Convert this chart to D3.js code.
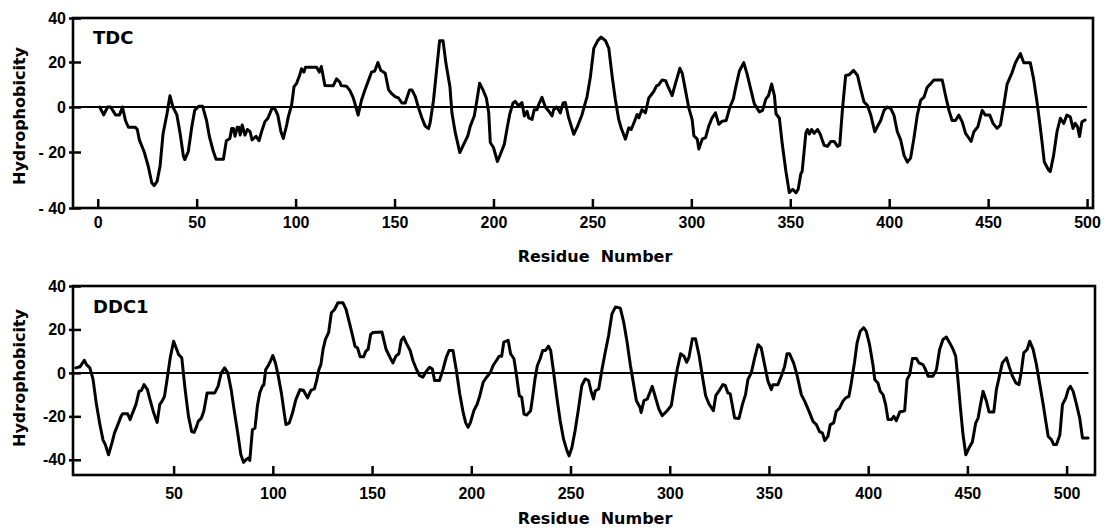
<!DOCTYPE html>
<html>
<head>
<meta charset="utf-8">
<script src="https://cdn.jsdelivr.net/npm/d3@7"></script>
<style>
  body { margin: 0; background: #fff; }
  svg { display: block; }
</style>
</head>
<body>
<div id="chart"></div>
<script>
// hydrophobicity profiles, [residue, value]
const tdc = [
  [1,0],[3,-3.5],[5,0],[6.5,0],[9,-3.5],[11,-3.5],[12.5,0],[14,-6],[15.5,-9],[19,-9],[20,-10],[21,-14.5],
  [23.5,-20],[25.5,-25],[27.3,-31],[28.5,-32],[30,-30.5],[31.5,-25],[33,-12],[35,-3],[36.5,5],[38,0],
  [40,-3.5],[41.6,-11.5],[43.3,-21.5],[44,-22.7],[45.8,-19.7],[47.5,-9],[49,-1.5],[51,0.3],[53,0.3],
  [55,-6],[56.4,-13],[58.4,-19.7],[59.8,-22.6],[63.5,-22.6],[65,-15],[66.8,-14],[67.7,-9.5],[68.5,-9.5],
  [69.4,-13],[70.5,-9],[71.3,-9],[72,-12.4],[73,-8],[74.4,-12.5],[75.6,-10],[77,-11],[78,-14.6],[80,-13],
  [81.5,-15],[82.8,-11],[84.5,-6.5],[86,-5],[88,-0.7],[89.5,-0.7],[91,-3.6],[92.6,-11],[93.8,-14],
  [95.5,-8],[96.3,-4.4],[98,1],[99.2,9],[100.5,10.5],[102,14],[103,17],[104.2,15.5],[105,17.7],
  [110.6,17.7],[112,15.5],[113,18],[114.8,9.6],[119,9.4],[120.7,12.5],[122.4,11],[123,9.5],[125.8,9.2],
  [127.4,7.4],[129,4.4],[130.5,0],[131.6,-3.6],[133.3,3],[135,7.4],[136.7,11.5],[138.4,15.5],[140,16],
  [141.6,19.8],[143,16.3],[145.3,15],[147,7.6],[148.7,5.8],[150.3,4.6],[152,4],[153.7,1.8],[155.4,1.8],
  [157.6,7.6],[158.8,7.6],[160.5,4.6],[162,0],[163.8,-4.8],[165.5,-8.5],[167.2,-9.6],[168,-7],[169.7,3],
  [171.4,17.7],[172.8,29.7],[174.5,29.7],[176,19.3],[178,9],[179,-2.6],[180.7,-11.4],[183,-20.2],
  [185,-16.5],[187,-12.9],[188.3,-8.5],[190.3,-4],[191.7,3.3],[193,10.6],[194.7,7.6],[196.4,4],
  [197.6,-2.6],[198.4,-15.8],[200,-18],[202,-23.4],[203.5,-20.8],[205.5,-16.5],[206.8,-9.9],[208.2,-3.3],
  [209.9,1.8],[211,2.5],[212.7,0.5],[214.4,2],[215.6,-4],[217,-1.9],[217.8,-4.8],[219.5,-5.5],[220.6,-1.2],
  [222,-1.2],[222.8,1],[224.5,4.3],[226.2,0],[228,-1.9],[229.6,-4],[230.4,-1.2],[232,0],[233.8,-2.6],
  [235.2,1.8],[236.3,2],[238,-4.8],[240.6,-12.1],[242.2,-9.2],[244.8,-3.3],[247.3,4.6],[249,13.5],
  [250.7,26.2],[252.7,29.7],[254.4,31.3],[256.6,29.7],[258.3,26.2],[260,13.5],[261.6,3.3],[263.3,-5.5],
  [264.5,-9.2],[266.7,-14.3],[268.4,-9.2],[269.6,-10],[271,-7],[272.6,-3.3],[273.5,-4.8],[275,-1.2],
  [276.8,-2.6],[278.5,4],[281,6.9],[282.4,9.4],[283.5,9.8],[285.2,12],[287,11.7],[288,9.5],[290.3,5.1],
  [292,10.5],[294.2,17.2],[295.4,15],[297,7.6],[298.7,-0.4],[300.4,-5.5],[301.3,-12.8],[303,-14.3],
  [303.8,-18.7],[305.5,-14.3],[307.2,-13.6],[308.8,-8.5],[310.5,-4.8],[312.2,-2.6],[313.9,-7.7],
  [315.6,-6.3],[317.6,-6],[319.5,0],[321.2,3.5],[322.6,9.5],[324.3,16],[326.5,19.7],[328.2,14.6],
  [330.2,7.3],[331.8,1.5],[334.4,-2.2],[336,-1.5],[337.7,3.6],[339,5],[340.6,10.2],[342,5],[342.8,-3],
  [344.5,-5],[346,-16.8],[347.8,-26.9],[349.5,-34.5],[351.2,-33.3],[352.9,-34.5],[354,-33.3],
  [355.4,-27.6],[356,-27],[357.9,-11.5],[358.7,-10],[359.6,-12],[360.8,-10],[362.1,-11.7],[363.8,-10],
  [365.1,-12],[367.1,-17],[368.8,-17.5],[370.5,-15.3],[372.2,-15.3],[373.9,-17.5],[375,-17],[376.4,-0.7],
  [378,14],[379.7,14.3],[382,16.3],[384,14],[385.6,8],[387.3,2.2],[389,0.7],[390.7,-3.6],[392.7,-11],
  [394,-8.8],[395.7,-6],[397.4,-1.5],[399,0],[400.8,-0.7],[402.4,-3.6],[404.1,-11],[405.8,-14.6],
  [407.5,-21.2],[409.2,-23.6],[410.8,-22.2],[412.5,-13.9],[414.2,-3.6],[415.9,3],[417.6,4.4],[419.2,8.8],
  [420.9,10.3],[422.6,12],[426.8,12],[428.5,5],[430.2,-1.5],[431.8,-6],[433.5,-6],[435.2,-3.6],
  [436.9,-6.6],[438.6,-11.7],[440.3,-13.9],[441.4,-15.3],[442.8,-11],[444.8,-8.8],[446.1,-4.4],
  [447,-1.5],[448.6,-3.6],[450.8,-3.6],[452.5,-7.3],[454.5,-9.5],[456.2,-8],[457.9,0.7],[459.6,10.2],
  [462.1,15.3],[463.8,19.7],[466.3,23.8],[468,19.7],[471.3,19.7],[473,12.4],[474.7,2.2],[476,-6.6],
  [477.2,-15.3],[478.4,-23.6],[480.6,-26.5],[481.4,-27],[483.1,-21.2],[484.8,-11],[486.5,-5],
  [488.2,-7.3],[489.8,-3.6],[491.5,-4.4],[492.9,-9.5],[494,-7.3],[495.2,-8.8],[496.2,-13.1],
  [497.4,-6.6],[499,-5.8]
];

const ddc1 = [
  [0.7,2.3],[2.8,2.8],[5,5.8],[6.1,3.8],[7.8,2.3],[9.4,-3],[11,-13.8],[12.7,-23],[14.4,-30.8],[15.6,-33],
  [17.2,-37.7],[18.9,-32.3],[20.2,-27.7],[21.9,-23.8],[23.5,-20],[24.3,-18.8],[26.8,-18.8],[28.1,-21.5],
  [29.3,-18.5],[31,-14.6],[32.6,-8.5],[33.8,-8],[35.1,-5.4],[36.8,-7.7],[38.1,-12.3],[40,-18.5],
  [41.7,-22.8],[43,-14.6],[44.2,-13],[45.4,-10.8],[46.7,-3],[48.3,7],[50,14.6],[51.3,11.5],[52.5,8.5],
  [54.1,7],[55.8,-7.7],[57.5,-20],[59.1,-27],[60.3,-27.4],[61.6,-24.6],[62.4,-22.3],[64,-20.8],
  [65.2,-17.7],[66.9,-9.2],[70.7,-9.2],[72.4,-6.2],[74,0],[75.7,2.3],[77.3,0],[79,-7.7],[80.6,-17.7],
  [82.3,-27.7],[83.9,-37.7],[85.3,-41.2],[86.4,-40],[87.7,-39.2],[88.4,-40.3],[89.7,-26.2],[91,-25.4],
  [92.2,-15.4],[93.4,-9.2],[94.7,-6.2],[95.5,-5.4],[96.4,1.5],[97.7,3.4],[98.8,5.4],[100,8],[101.3,4.6],
  [102.6,-0.8],[104.3,-9.2],[105.5,-16.9],[106.6,-23.8],[108.3,-23],[109.9,-18.5],[111.6,-12.3],
  [113.7,-7.7],[115.4,-8],[117.5,-11.5],[119.2,-8],[120.9,-7.4],[122,-3.8],[123.2,1.5],[124.2,3.8],
  [125.3,10.8],[126.5,15.4],[128.1,18.5],[129.5,27.7],[131.1,29.2],[132.8,32.3],[135.3,32.3],
  [136.9,29.2],[138.6,23],[140.2,17],[141.4,12.3],[142.7,11.5],[144,7.4],[145.7,7.4],[146.9,10],
  [148,10.8],[149.3,17.7],[150.5,18.6],[155,18.8],[157,11],[159,7.2],[160.5,4.6],[162,7.7],[163.5,8.8],
  [164.7,15],[165.9,16.5],[167.2,13.8],[169.2,10.3],[170.6,5.7],[172.3,1.8],[173.9,-1.2],[175.6,-2],
  [177,0.3],[179,2.6],[180.4,1.8],[181.5,-3.5],[184,-3.5],[185.8,1.8],[187.4,7.2],[188.8,10.3],
  [190.8,10.3],[192.5,1],[194.2,-9.7],[195.9,-18.2],[197.2,-23],[198.4,-25],[199.6,-22.8],[201.3,-17.4],
  [203,-14.3],[204.3,-10.5],[206,-4.3],[207.7,-2],[209.7,0.3],[211,3.4],[212.7,5.7],[214,7.7],
  [215.3,7.7],[216.4,14.2],[218.6,15],[219.8,8.8],[221.5,6.5],[222.8,-1.2],[224.2,-10.5],[225.4,-11.2],
  [226.6,-19],[227.9,-19.4],[229.9,-17.4],[231,-10.5],[232.1,-2.8],[233.3,3.4],[234.7,6.5],[236,10.3],
  [237.4,10.3],[238.9,12.3],[240,10.3],[241.4,1],[243.1,-11.2],[244.8,-22],[246.5,-30.5],[248.2,-35.8],
  [249.3,-38.2],[250.7,-34.3],[252.3,-26.6],[254,-16.6],[255.7,-5.8],[257.4,-2.8],[259.1,-3.5],
  [260.3,-8.2],[261.6,-12],[262.5,-8.2],[264.2,-7.4],[265.9,1.8],[267.5,9.5],[269.2,17.2],[270.9,27.2],
  [272.6,30.3],[275.1,29.8],[276.8,23.4],[278.5,14.2],[280.2,3.4],[281.9,-5.8],[283.2,-12.8],[285,-15.8],
  [285.6,-18.2],[287,-12.8],[288.7,-12],[291.2,-6.2],[292.8,-11.2],[294.5,-16.6],[296.2,-19.7],
  [298.7,-17.4],[300.8,-15],[302.1,-7.4],[303.8,1.8],[305.5,8.8],[307.2,7.7],[308.5,4.9],[309.7,7.2],
  [311.4,15.7],[313,15.7],[314.8,8],[316.4,-1.2],[318.1,-10.5],[319.8,-14.3],[322,-17.4],[323.2,-10.5],
  [324.9,-8.2],[326.8,-5.4],[328,-5.8],[329.3,-9.2],[330.5,-9.7],[332.7,-20.8],[334.9,-21],[336.6,-14.6],
  [338.2,-10],[339.4,-3],[341.1,0],[342.8,6.9],[344.5,13],[346.1,11.5],[347.8,3.8],[349.5,-3.8],
  [351.2,-7.7],[352,-5.4],[354.5,-5.4],[356.2,-1.5],[357.9,3],[359.1,8.8],[360.4,8.8],[362.4,4.6],
  [364.1,-0.8],[366.3,-10],[368,-13],[370.2,-17.7],[372.2,-22.3],[373.9,-23.8],[375.5,-27],[377,-27.7],
  [378.1,-31.2],[379.7,-29.2],[380.9,-23.8],[382.6,-23],[383.9,-17.7],[385.6,-16.2],[387.3,-13],
  [388.7,-11.5],[390.3,-10.8],[391.5,-4.6],[393.2,5.4],[394.4,13.8],[396,19.2],[397.7,20.8],[399,19.2],
  [400.7,13],[402.4,3.8],[403.3,-3],[404.9,-4.6],[406.1,-8.5],[407.5,-10],[408.8,-14.6],[410,-21.5],
  [411.7,-21.5],[412.9,-20],[414.2,-22],[415.9,-18],[418.4,-17.4],[419.6,-3],[420.9,-0.8],[422.3,6.6],
  [424.3,6.6],[425.6,4.6],[427.6,3.8],[428.5,2.3],[430.2,-1.5],[432.7,-1.5],[434.4,1.5],[436,10.8],
  [437.7,15.4],[439.4,16.5],[441.1,13.8],[442.8,10.8],[444.1,7.7],[445.3,-3.8],[446.5,-16.2],
  [447.8,-28.5],[449.2,-37.7],[450.8,-34.6],[452.5,-31.8],[454.2,-23],[455.4,-20.8],[456.6,-14.6],
  [457.9,-8.5],[459.6,-13],[460.9,-18],[463.3,-18],[464.6,-7.7],[466.3,-0.8],[467.6,4.6],[469.7,6.9],
  [471,3],[472.7,-1.5],[474.4,-4.6],[476,-5.4],[477.2,0.8],[478.4,9.2],[480.1,10.8],[481.4,14.6],
  [483.1,10.8],[484.8,3.8],[486.5,-5.4],[488.2,-14.6],[489.5,-22.3],[490.7,-29.2],[492.4,-30.8],
  [493.5,-33],[494.9,-33],[496.6,-28.5],[497.9,-14.6],[499.6,-11.5],[500.8,-7.7],[501.9,-6.2],
  [503.3,-8.5],[505,-14.6],[506.6,-20.8],[508,-30],[510.8,-30]
];

const yTicks = [40, 20, 0, -20, -40];
const tdcTicksX = [0, 50, 100, 150, 200, 250, 300, 350, 400, 450, 500];
const ddcTicksX = [50, 100, 150, 200, 250, 300, 350, 400, 450, 500];

const width = 1105;
const height = 529;

const svg = d3
  .select('#chart')
  .append('svg')
  .attr('width', width)
  .attr('height', height);

const panels = [
  {
    name: 'TDC', data: tdc, xTicks: tdcTicksX, zeroEnd: 500,
    x: d3.scaleLinear().domain([-12.5, 503]).range([73, 1093]),
    // the printed y axis is not evenly spaced, so the scale follows it piece by piece
    y: d3.scaleLinear().domain([-40, -20, 0, 20, 40]).range([208, 152, 107, 62, 18]),
    tickPad: 9, titleY: 262, nameY: 44, yTitleY: 116,
    fmt: (d) => (d < 0 ? '- ' + Math.abs(d) : d)
  },
  {
    name: 'DDC1', data: ddc1, xTicks: ddcTicksX, zeroEnd: 511,
    x: d3.scaleLinear().domain([-0.7, 514.3]).range([73, 1095]),
    y: d3.scaleLinear().domain([-47, 40]).range([475, 286]),
    tickPad: 13, titleY: 524, nameY: 313, yTitleY: 378,
    fmt: (d) => d
  }
];

const font = "'Liberation Sans', Arial, sans-serif";
const titleFont = "'DejaVu Sans', sans-serif";

panels.forEach((p) => {
  const g = svg.append('g');
  const [x0, x1] = p.x.range();
  const yBottom = d3.max(p.y.range());
  const yTop = d3.min(p.y.range());

  // y axis: short ticks crossing the frame
  g.append('g')
    .attr('transform', `translate(${x0 + 8}, 0)`)
    .call(d3.axisLeft(p.y).tickValues(yTicks).tickSize(12).tickPadding(3).tickFormat(p.fmt))
    .call((a) => a.select('.domain').remove())
    .call((a) => a.selectAll('line').attr('stroke', '#000').attr('stroke-width', 2.5))
    .call((a) =>
      a.selectAll('text')
        .attr('fill', '#000')
        .attr('font-family', font)
        .attr('font-weight', 'bold')
        .attr('font-size', '16px')
    );

  // x axis: ticks point into the plot
  g.append('g')
    .attr('transform', `translate(0, ${yBottom})`)
    .call(d3.axisBottom(p.x).tickValues(p.xTicks).tickSizeInner(-9).tickSizeOuter(0).tickPadding(p.tickPad))
    .call((a) => a.select('.domain').remove())
    .call((a) => a.selectAll('line').attr('stroke', '#000').attr('stroke-width', 2.5))
    .call((a) =>
      a.selectAll('text')
        .attr('fill', '#000')
        .attr('font-family', font)
        .attr('font-weight', 'bold')
        .attr('font-size', '16px')
    );

  // frame
  g.append('rect')
    .attr('x', x0)
    .attr('y', yTop)
    .attr('width', x1 - x0)
    .attr('height', yBottom - yTop)
    .attr('fill', 'none')
    .attr('stroke', '#000')
    .attr('stroke-width', 2.6);

  // zero line
  g.append('line')
    .attr('x1', x0)
    .attr('x2', p.x(p.zeroEnd))
    .attr('y1', p.y(0))
    .attr('y2', p.y(0))
    .attr('stroke', '#000')
    .attr('stroke-width', 2);

  const line = d3
    .line()
    .x((d) => p.x(d[0]))
    .y((d) => p.y(d[1]));

  g.append('path')
    .datum(p.data)
    .attr('d', line)
    .attr('fill', 'none')
    .attr('stroke', '#000')
    .attr('stroke-width', 3)
    .attr('stroke-linejoin', 'round')
    .attr('stroke-linecap', 'round');

  g.append('text')
    .attr('x', 93)
    .attr('y', p.nameY)
    .attr('font-family', titleFont)
    .attr('font-weight', 'bold')
    .attr('font-size', '18px')
    .text(p.name);

  g.append('text')
    .attr('x', 595)
    .attr('y', p.titleY)
    .attr('text-anchor', 'middle')
    .attr('font-family', titleFont)
    .attr('font-weight', 'bold')
    .attr('font-size', '16px')
    .style('white-space', 'pre')
    .text('Residue  Number');

  g.append('text')
    .attr('transform', `translate(25, ${p.yTitleY}) rotate(-90)`)
    .attr('text-anchor', 'middle')
    .attr('font-family', titleFont)
    .attr('font-weight', 'bold')
    .attr('font-size', '16px')
    .text('Hydrophobicity');
});
</script>
</body>
</html>
